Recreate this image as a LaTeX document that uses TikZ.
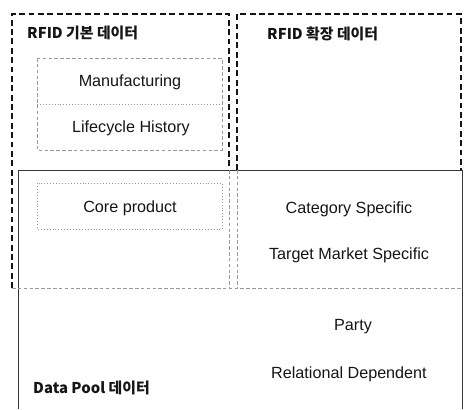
\documentclass[tikz,border=0pt]{standalone}
\usepackage{fontspec}
\setmainfont{Liberation Sans}
\newfontfamily\kr{Noto Sans CJK KR}
\usetikzlibrary{positioning}
\definecolor{ink}{HTML}{151515}
\definecolor{faint}{HTML}{9a9a9a}

\begin{document}
\begin{tikzpicture}[
  x=0.03cm, y=-0.03cm,
  font=\fontsize{13.8}{16}\selectfont,
  outer/.style={draw=ink, line width=1.3pt, dash pattern=on 5pt off 3pt},
  inner/.style={draw=faint, line width=0.5pt, dash pattern=on 3pt off 2pt},
  pool/.style={draw=ink!85, line width=0.8pt},
  item/.style={text=ink, inner sep=0pt},
  title/.style={font=\kr\bfseries\fontsize{12.7}{15}\selectfont, text=ink, anchor=west, inner sep=0pt}]
  \useasboundingbox (0,0) rectangle (464,409);
  % data pool
  \draw[pool] (18,409) -- (18,170) -- (462,170) -- (462,409);
  % rfid basic + extended
  \draw[outer] (12,288) -- (12,14) -- (229,14) -- (229,170);
  \draw[outer] (237,170) -- (237,14) -- (461,14) -- (461,170);
  \draw[inner] (229,170) -- (229,288) (237,170) -- (237,288);
  \draw[inner] (12,288) -- (461,288);
  % inner boxes
  \draw[inner] (37,58) rectangle (222,150);
  \draw[inner, dotted] (37,104) -- (222,104);
  \draw[inner, dotted] (37,183) rectangle (222,229);
  % titles
  \node[title] (basictitle) at (27,33) {RFID 기본 데이터};
  \node[title] (exttitle) at (267,34) {RFID 확장 데이터};
  \node[title] (pooltitle) at (33,388) {Data Pool 데이터};
  % items
  \node[item] (manuf) at (130,82) {Manufacturing};
  \node[item] (life) at (131,128) {Lifecycle History};
  \node[item] (core) at (130,208) {Core product};
  \node[item] (cat) at (349,209) {Category Specific};
  \node[item] (target) at (349,255) {Target Market Specific};
  \node[item] (party) at (353,327) {Party};
  \node[item] (rel) at (349,374) {Relational Dependent};
\end{tikzpicture}
\end{document}
